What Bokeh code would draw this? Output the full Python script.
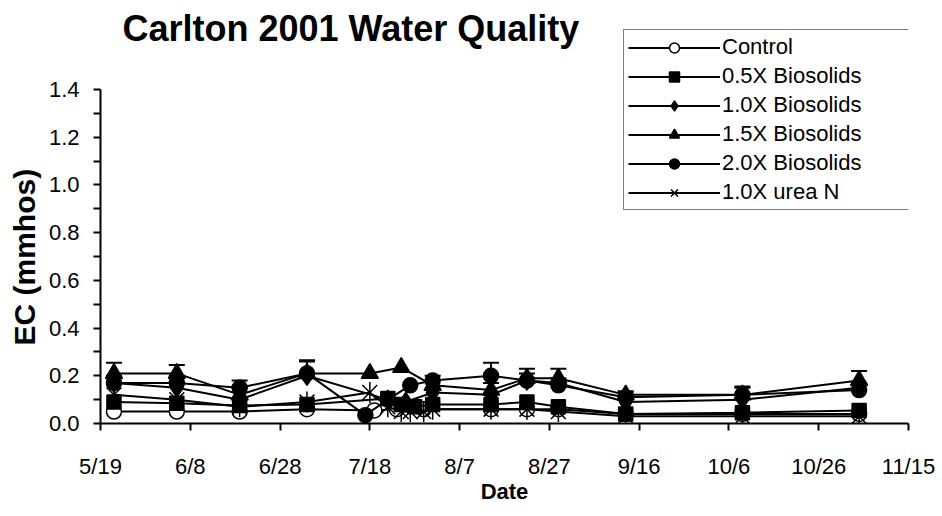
import math
import pandas as pd
from bokeh.plotting import figure
from bokeh.models import (ColumnDataSource, Range1d, FixedTicker, Legend, LegendItem,
                          Whisker, TeeHead, Label, Title)
from bokeh.embed import file_html
from bokeh.resources import INLINE

# ---------------- data ----------------
title_text = "Carlton 2001 Water Quality"
x_label = "Date"
y_label = "EC (mmhos)"

x_tick_dates = ["2001-05-19", "2001-06-08", "2001-06-28", "2001-07-18", "2001-08-07",
                "2001-08-27", "2001-09-16", "2001-10-06", "2001-10-26", "2001-11-15"]
x_tick_labels = ["5/19", "6/8", "6/28", "7/18", "8/7", "8/27", "9/16", "10/6", "10/26", "11/15"]
y_ticks = [0.0, 0.2, 0.4, 0.6, 0.8, 1.0, 1.2, 1.4]
y_tick_labels = ["0.0", "0.2", "0.4", "0.6", "0.8", "1.0", "1.2", "1.4"]
y_minor = [0.1, 0.3, 0.5, 0.7, 0.9, 1.1, 1.3]
y_axis_max = 1.4

control_dates = ["2001-05-22", "2001-06-05", "2001-06-19", "2001-07-04", "2001-07-19", "2001-07-24",
                 "2001-07-30", "2001-08-14", "2001-08-22", "2001-08-29", "2001-09-13", "2001-10-09",
                 "2001-11-04"]
control_ec = [0.05, 0.05, 0.05, 0.06, 0.055, 0.06, 0.06, 0.06, 0.06, 0.06, 0.04, 0.04, 0.04]

b05_dates = ["2001-05-22", "2001-06-05", "2001-06-19", "2001-07-04", "2001-07-22", "2001-07-25",
             "2001-07-28", "2001-08-01", "2001-08-14", "2001-08-22", "2001-08-29", "2001-09-13",
             "2001-10-09", "2001-11-04"]
b05_ec = [0.09, 0.085, 0.075, 0.08, 0.105, 0.08, 0.07, 0.08, 0.08, 0.09, 0.07, 0.04, 0.045, 0.055]

b10_dates = ["2001-05-22", "2001-06-05", "2001-06-19", "2001-07-04", "2001-07-22", "2001-07-26",
             "2001-08-01", "2001-08-14", "2001-08-22", "2001-08-29", "2001-09-13", "2001-10-09",
             "2001-11-04"]
b10_ec = [0.17, 0.15, 0.10, 0.20, 0.10, 0.09, 0.13, 0.12, 0.18, 0.17, 0.09, 0.10, 0.15]

b15_dates = ["2001-05-22", "2001-06-05", "2001-06-19", "2001-07-04", "2001-07-18", "2001-07-25",
             "2001-08-01", "2001-08-14", "2001-08-22", "2001-08-29", "2001-09-13", "2001-10-09",
             "2001-11-04"]
b15_ec = [0.21, 0.21, 0.12, 0.21, 0.21, 0.235, 0.16, 0.14, 0.19, 0.19, 0.12, 0.12, 0.18]
b15_err = [0.045, 0.035, 0.03, 0.05, 0.0, 0.0, 0.02, 0.03, 0.04, 0.04, 0.015, 0.035, 0.04]

b20_dates = ["2001-05-22", "2001-06-05", "2001-06-19", "2001-07-04", "2001-07-17", "2001-07-22",
             "2001-07-27", "2001-08-01", "2001-08-14", "2001-08-22", "2001-08-29", "2001-09-13",
             "2001-10-09", "2001-11-04"]
b20_ec = [0.17, 0.17, 0.15, 0.21, 0.035, 0.10, 0.16, 0.18, 0.20, 0.18, 0.16, 0.11, 0.12, 0.14]
b20_err = [0.03, 0.03, 0.03, 0.055, 0.0, 0.0, 0.0, 0.02, 0.055, 0.03, 0.03, 0.02, 0.03, 0.03]

urea_dates = ["2001-05-22", "2001-06-05", "2001-06-19", "2001-07-04", "2001-07-18", "2001-07-22",
              "2001-07-25", "2001-07-27", "2001-07-30", "2001-08-01", "2001-08-14", "2001-08-22",
              "2001-08-29", "2001-09-13", "2001-10-09", "2001-11-04"]
urea_ec = [0.12, 0.10, 0.07, 0.09, 0.13, 0.07, 0.05, 0.05, 0.05, 0.06, 0.06, 0.06, 0.05, 0.03,
           0.03, 0.03]

# ---------------- layout (pixels) ----------------
W, H = 942, 516
FRAME_L, FRAME_R, AXIS_TOP, FRAME_B = 100, 908, 89, 423
px_per_unit = (FRAME_B - AXIS_TOP) / y_axis_max
y_end = FRAME_B / px_per_unit  # frame reaches the top of the canvas

FONT = "Liberation Sans"
p = figure(width=W, height=H, output_backend="svg", toolbar_location=None,
           x_axis_type="datetime",
           x_range=Range1d(pd.Timestamp("2001-05-19"), pd.Timestamp("2001-11-15")),
           y_range=Range1d(0, y_end),
           min_border_left=FRAME_L, min_border_right=W - FRAME_R, min_border_top=0,
           min_border_bottom=H - FRAME_B)
p.background_fill_color = "white"
p.border_fill_color = "white"
p.outline_line_color = None
p.xgrid.grid_line_color = None
p.ygrid.grid_line_color = None

def ms(d):
    return pd.Timestamp(d).value // 10**6

xa = p.xaxis[0]
xa.ticker = FixedTicker(ticks=[ms(d) for d in x_tick_dates], minor_ticks=[])
xa.major_label_overrides = {ms(d): l for d, l in zip(x_tick_dates, x_tick_labels)}
ya = p.yaxis[0]
ya.ticker = FixedTicker(ticks=y_ticks, minor_ticks=y_minor)
ya.major_label_overrides = {t: l for t, l in zip(y_ticks, y_tick_labels)}
ya.bounds = (0, y_axis_max)

for ax in (xa, ya):
    ax.axis_line_color = "black"
    ax.axis_line_width = 2
    ax.major_tick_line_color = "black"
    ax.major_tick_line_width = 2
    ax.major_tick_in = 0
    ax.major_tick_out = 7
    ax.minor_tick_line_color = "black"
    ax.minor_tick_line_width = 2
    ax.minor_tick_in = 0
    ax.minor_tick_out = 7
    ax.major_label_text_font = FONT
    ax.major_label_text_font_size = "22px"
    ax.major_label_text_color = "black"
    ax.axis_label_text_font = FONT
    ax.axis_label_text_font_size = "22px"
    ax.axis_label_text_font_style = "bold"
    ax.axis_label_text_color = "black"
xa.axis_label = x_label
xa.major_label_standoff = 23
xa.axis_label_standoff = -3
ya.major_label_standoff = 14

# y axis title, centred on the 0-1.4 axis rather than on the whole frame
ytitle = Title(text=y_label, align="left", offset=(FRAME_B - 345), standoff=10,
               text_font=FONT, text_font_size="30px", text_font_style="bold",
               text_color="black")
p.add_layout(ytitle, "left")

# chart title
p.add_layout(Label(x=22, y=FRAME_B - 28, x_units="screen", y_units="screen",
                   text=title_text, text_font=FONT, text_font_size="36px",
                   text_font_style="bold", text_color="black", text_baseline="alphabetic"))

LW = 2
series = [
    ("Control", control_dates, control_ec, None, "circle", "white", 15),
    ("0.5X Biosolids", b05_dates, b05_ec, None, "square", "black", 14),
    ("1.0X Biosolids", b10_dates, b10_ec, None, "diamond", "black", 19),
    ("1.5X Biosolids", b15_dates, b15_ec, b15_err, "triangle", "black", 17),
    ("2.0X Biosolids", b20_dates, b20_ec, b20_err, "circle", "black", 15),
    ("1.0X urea N", urea_dates, urea_ec, None, "x", "black", 21),
]

items = []
for name, dts, vals, errs, marker, fill, size in series:
    xs = pd.to_datetime(dts)
    src = ColumnDataSource(dict(x=xs, y=vals))
    if errs is not None:
        keep = [i for i, e in enumerate(errs) if e > 0]
        wsrc = ColumnDataSource(dict(x=[xs[i] for i in keep],
                                     base=[vals[i] for i in keep],
                                     upper=[vals[i] + errs[i] for i in keep]))
        w = Whisker(source=wsrc, base="x", lower="base", upper="upper", dimension="height",
                    line_color="black", line_width=2,
                    upper_head=TeeHead(size=16, line_width=2, line_color="black"),
                    lower_head=None)
        p.add_layout(w)
    ln = p.line("x", "y", source=src, line_color="black", line_width=LW)
    rends = [ln]
    if marker == "x":
        m1 = p.scatter("x", "y", source=src, marker="x", size=size, line_color="black",
                       line_width=1.5)
        m2 = p.scatter("x", "y", source=src, marker="dash", angle=math.pi / 2, size=size,
                       line_color="black", line_width=1.5)
        rends += [m1, m2]
    else:
        m = p.scatter("x", "y", source=src, marker=marker, size=size, fill_color=fill,
                      line_color="black", line_width=1.5)
        rends.append(m)
    items.append(LegendItem(label=name, renderers=rends))

legend = Legend(items=items, location=(523, FRAME_B - 210))
legend.border_line_color = "black"
legend.border_line_width = 1.5
legend.background_fill_color = "white"
legend.background_fill_alpha = 1
legend.label_text_font = FONT
legend.label_text_font_size = "22px"
legend.label_text_color = "black"
legend.glyph_width = 92
legend.glyph_height = 25
legend.label_height = 25
legend.label_width = 185
legend.label_standoff = 2
legend.padding = 4
legend.spacing = 3
legend.margin = 0
p.add_layout(legend, "center")

open("out.html", "w").write(file_html(p, INLINE))
